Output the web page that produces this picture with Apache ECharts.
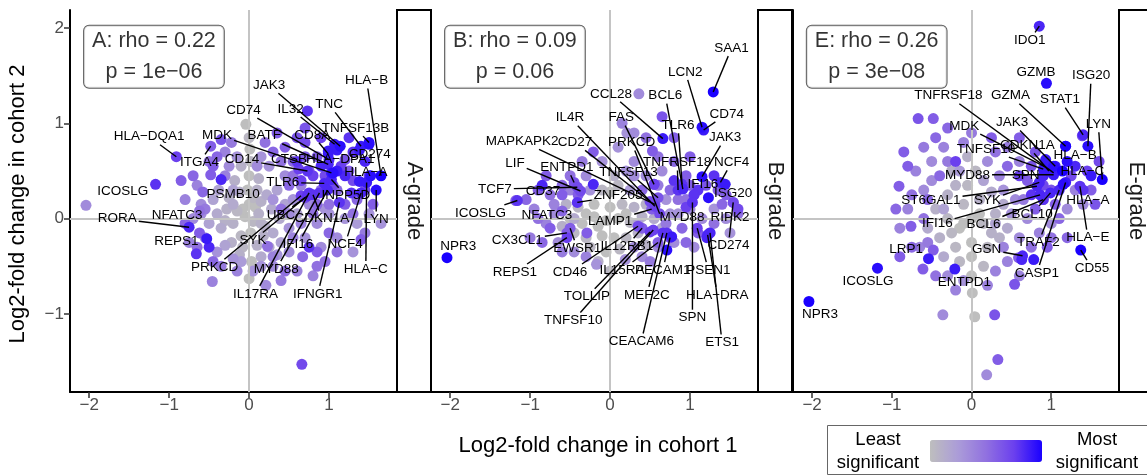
<!DOCTYPE html>
<html>
<head>
<meta charset="utf-8">
<script src="https://cdn.jsdelivr.net/npm/echarts@6/dist/echarts.min.js"></script>
<style>
  html, body { margin: 0; padding: 0; background: #fff; }
  #chart { width: 1147px; height: 475px; }
</style>
</head>
<body>
<div id="chart"></div>
<script>
// panel strip names and the rho / p annotation of each panel
var panelNames = ['A-grade', 'B-grade', 'E-grade'];
var statText = ['A: rho = 0.22\np = 1e\u221206', 'B: rho = 0.09\np = 0.06', 'E: rho = 0.26\np = 3e\u221208'];
var xTicks = [-2, -1, 0, 1];
var yTicks = [-1, 0, 1, 2];
var xTitle = 'Log2-fold change in cohort 1';
var yTitle = 'Log2-fold change in cohort 2';
var legendText = ['Least\nsignificant', 'Most\nsignificant'];

// unlabelled genes: [cohort1 lfc, cohort2 lfc, significance 0..1]
var pointsA = [
  [-0.05,0.02,0],[0.05,-0.03,0.05],[0.12,0.05,0.1],[-0.15,0.08,0.05],[-0.2,-0.05,0.1],[0.2,-0.08,0.1],[0,0.15,0],[0.02,-0.15,0],
  [-0.1,-0.18,0.05],[0.15,0.18,0.1],[-0.28,0.1,0.1],[0.28,0.1,0.15],[-0.35,-0.1,0.15],[0.3,-0.15,0.15],[-0.02,0.3,0],[0,0.45,0],
  [0.02,0.6,0.05],[0.01,0.73,0],[-0.04,0.99,0],[0.1,0.3,0.1],[-0.12,0.28,0.1],[-0.25,0.22,0.1],[0.22,0.25,0.15],[-0.4,0.05,0.15],
  [0.38,0,0.15],[-0.08,-0.3,0.05],[0.1,-0.28,0.1],[-0.22,-0.25,0.1],[0,-0.63,0],[0.03,-0.45,0],[-0.45,0.2,0.2],[0.45,0.15,0.2],
  [-0.3,-0.28,0.2],[0.25,-0.3,0.15],[0.4,-0.25,0.2],[-0.5,-0.05,0.2],[0.08,0.12,0],[-0.08,0.1,0],[0.05,0.22,0.05],[0.6,0.05,0.2],
  [-0.38,0.3,0.2],[0.35,0.3,0.2],[-0.18,0.4,0.1],[0.12,0.42,0.1],[-0.3,-0.02,0.1],[0.18,-0.18,0.1],[0,0.85,0.05],[-0.1,0.55,0.1],
  [0.15,-0.4,0.15],[-0.12,-0.38,0.1],[-0.2,0.15,0.15],[0.15,-0.05,0.1],[-0.1,-0.45,0.25],[0.3,0.2,0.3],
  [-0.6,0.15,0.35],[-0.55,-0.2,0.3],[-0.65,0.35,0.4],[-0.7,0,0.35],[-0.4,-0.35,0.3],[-0.2,-0.42,0.3],[0.15,-0.5,0.3],[0.3,-0.5,0.35],
  [0.5,-0.35,0.35],[0.7,-0.2,0.3],[0.85,-0.05,0.35],[1,0.05,0.3],[1.2,0,0.3],[1.35,-0.05,0.25],[1.5,0.05,0.3],[0.9,-0.3,0.35],
  [1.1,-0.2,0.35],[0.21,-0.7,0.35],[-0.46,-0.66,0.4],[0.6,-0.55,0.4],[0.45,0.45,0.35],[0.25,0.55,0.3],[0.65,0.35,0.4],[-0.25,0.55,0.35],
  [-0.15,0.65,0.3],[-0.3,0.7,0.4],[-0.22,0.8,0.45],[0.15,0.65,0.3],[-2.04,0.14,0.35],[0.75,0.15,0.35],[0.55,0.2,0.3],[0.5,-0.1,0.3],
  [-0.8,0.2,0.4],[-0.75,-0.25,0.4],[1.3,-0.35,0.3],[0.8,-0.6,0.4],[0.4,-0.65,0.45],[-0.6,0.05,0.35],[0.95,0.1,0.3],[1.65,-0.05,0.3],
  [0.35,-0.38,0.3],[-0.3,0.45,0.4],[-0.55,0.1,0.45],[-0.35,-0.5,0.45],[-0.15,-0.55,0.4],[0.05,-0.55,0.3],[0.3,-0.4,0.4],[0.55,-0.2,0.4],
  [0.65,-0.05,0.4],[0.1,0.55,0.35],[0.5,0.05,0.35],[1.45,-0.15,0.45],
  [-0.35,0.83,0.65],[-0.48,0.46,0.6],[-0.58,0.28,0.55],[-0.62,-0.15,0.6],[-0.45,-0.45,0.55],[0.23,-0.29,0.5],[0.67,-0.4,0.55],[1.4,-0.22,0.6],
  [0.3,0.7,0.55],[0.45,0.75,0.6],[0.55,0.6,0.55],[0.6,0.85,0.65],[0.75,0.5,0.6],[0.85,0.65,0.6],[0.9,0.3,0.55],[1.1,0.3,0.55],
  [1.25,0.5,0.6],[1.35,0.2,0.55],[1.55,0.15,0.6],[0.8,0.05,0.5],[1,0.15,0.5],[1.2,0.62,0.65],[0.35,0.9,0.6],[0.66,-1.53,0.7],
  [0.95,-0.45,0.5],[0.7,0.95,0.65],[-0.45,0.55,0.6],[0.85,-0.35,0.6],[1,-0.15,0.55],[0.5,0.35,0.55],[0.4,0.1,0.5],
  [-0.5,0.6,0.5],[-0.7,0.45,0.55],[-0.65,-0.3,0.5],[0.45,-0.55,0.5],[0.7,0.65,0.6],[0.55,0.45,0.5],[0.4,0.6,0.5],[0.2,0.8,0.5],
  [1.2,0.15,0.6],[0.85,0.15,0.55],[1.3,0.05,0.5],[1.1,-0.35,0.5],[0.85,-0.5,0.5],[-0.8,-0.05,0.55],[-0.85,0.4,0.6],[-0.4,0.65,0.55],
  [-0.35,0.41,0.85],[-0.66,-0.37,0.8],[0.73,1.13,0.8],[1.5,0.78,0.95],[0.99,0.71,0.9],[1.05,0.48,0.95],[1.38,0.39,0.9],[1.28,0.27,0.8],
  [0.75,-0.3,0.8],[0.9,0.55,0.85],[1.2,0.45,0.85],[1.45,0.6,0.85],[1.3,0.7,0.8],[0.8,0.45,0.75],[0.65,0.4,0.75],[1.1,0.72,0.9],
  [0.6,0.6,0.8],[-0.5,-0.3,0.85],[0.95,0.45,0.7],[1.15,0.55,0.75],[1.3,0.4,0.7],[1.45,0.3,0.7],[1.5,0.45,0.75],[1.05,0.35,0.7],
  [0.7,0.8,0.7],[0.9,0.85,0.75],[1.25,0.85,0.8]
];
var pointsB = [
  [-0.5,0,0],[-0.35,-0.05,0],[-0.2,0.02,0],[-0.05,-0.02,0],[0.1,0,0],[0.25,-0.04,0.05],[0.4,0.02,0.1],[0.55,0,0.15],
  [-0.45,-0.15,0.05],[-0.3,-0.2,0.05],[-0.1,-0.18,0],[0.05,-0.2,0],[0.2,-0.2,0.05],[0.35,-0.15,0.1],[-0.4,0.12,0.05],[-0.2,0.15,0],
  [0,0.12,0],[0.15,0.15,0.05],[0.3,0.12,0.1],[-0.05,-0.35,0],[0.12,-0.32,0.05],[-0.25,-0.3,0.05],[0,0.28,0],[0.1,0.35,0.05],
  [-0.1,0.3,0.05],[0.05,0.45,0.1],[-0.6,-0.08,0.1],[0.65,-0.1,0.15],[0.45,-0.28,0.1],[-0.15,-0.45,0.1],[0,-0.55,0.05],[-0.3,0.05,0],
  [0.2,0.05,0],[-0.15,-0.08,0],[0.45,0.15,0.1],[-0.55,0.15,0.1],[-0.45,0,0.15],[0.35,-0.05,0.2],[0.25,0.3,0.25],[-0.25,0.3,0.3],
  [0.21,0.9,0.3],[0.3,0.9,0.35],[0.1,0.75,0.3],[0.3,0.6,0.35],[-0.1,0.6,0.3],[0.2,0.5,0.3],[0.45,0.45,0.35],[-0.3,0.45,0.35],
  [-0.5,0.3,0.4],[-0.7,0.15,0.4],[-0.8,-0.05,0.4],[-0.65,-0.25,0.35],[-0.45,-0.35,0.35],[-0.17,-0.48,0.3],[0.19,-0.43,0.3],[0.4,-0.4,0.35],
  [0.6,-0.3,0.35],[0.8,-0.25,0.35],[0.85,0.05,0.3],[1,0.1,0.35],[1.15,0,0.35],[1.3,0.1,0.3],[1.45,0,0.35],[1.5,-0.15,0.3],
  [0.36,1.31,0.35],[0.7,0.2,0.3],[0.65,0.5,0.35],[-0.95,0.1,0.4],[1.05,-0.3,0.35],[-1,-0.2,0.45],[0.75,0.05,0.3],[-0.7,0.05,0.35],
  [-0.3,-0.4,0.4],[0.3,-0.3,0.35],[0.5,-0.45,0.45],[0.7,-0.05,0.45],[0.15,1,0.4],[-0.35,0.6,0.45],[0.6,0.35,0.45],[0.3,0.45,0.35],
  [0.65,1.07,0.65],[0.53,0.71,0.6],[-0.21,0.7,0.6],[-1.18,0.19,0.6],[-0.75,-0.1,0.6],[-0.29,-0.15,0.6],[1.54,0.17,0.6],[0.8,0.6,0.55],
  [0.95,0.45,0.6],[0.75,0.3,0.55],[1.05,0.25,0.6],[-0.9,0.3,0.6],[-0.6,0.35,0.55],[-0.85,-0.25,0.55],[0.4,0.3,0.55],[0.55,0.15,0.6],
  [1.25,-0.15,0.55],[0.9,-0.1,0.55],[-0.4,0.25,0.6],[1.35,0.3,0.6],[1.4,0.15,0.55],[0.95,0.2,0.5],[-0.9,0,0.5],[-1.05,0.2,0.55],
  [-0.75,0.25,0.5],[-0.6,-0.35,0.45],[0.85,0.2,0.5],[1,0.35,0.6],[1.2,0.35,0.65],[1.3,-0.05,0.5],[1.45,0.25,0.6],[1.6,0.05,0.5],
  [0.6,0.65,0.5],[0.45,0.85,0.5],[-0.5,0.45,0.5],[0.95,-0.25,0.55],[1.1,-0.15,0.6],[0.8,0.85,0.6],[-0.8,0.45,0.6],[1,0.65,0.6],
  [1.23,0.22,0.95],[-0.21,0.36,0.85],[0.71,-0.33,0.95],[0.77,-0.19,0.9],[1.21,-0.2,0.85],[0.55,0.36,0.75],[-0.85,0.35,0.85],[1.1,0.3,0.8],
  [0.8,0.4,0.8],[1.3,0.45,0.8]
];
var pointsE = [
  [-0.3,0,0.05],[-0.15,-0.1,0],[0,0,0],[0.15,-0.05,0.05],[0.3,0.05,0.1],[-0.4,-0.2,0.1],[-0.2,-0.3,0.05],[0,-0.25,0],
  [0.2,-0.3,0.05],[0.35,-0.2,0.1],[-0.1,0.15,0.05],[0.1,0.2,0.1],[-0.3,0.25,0.1],[0.25,0.28,0.15],[-0.45,0.1,0.1],[0,-0.4,0],
  [-0.15,-0.45,0.05],[0.15,-0.5,0.05],[0.01,-0.78,0],[0.04,-1.03,0],[0,-0.6,0],[-0.05,0.35,0.05],[0.05,0.5,0.05],[-0.25,0.5,0.1],
  [0.45,-0.1,0.15],[-0.55,-0.1,0.15],[-0.35,-0.4,0.15],[0.4,0.15,0.15],[-0.05,0.65,0.1],[-0.2,0.35,0.1],[-0.1,-0.05,0],[0.1,0.05,0],
  [-0.25,-0.15,0.05],[0.25,-0.15,0.1],[-0.15,0.5,0.25],[0.15,0.4,0.2],[-0.35,0.1,0.2],[0.3,-0.05,0.2],
  [-0.36,-1.01,0.35],[0.19,-1.64,0.35],[-0.6,0.3,0.35],[-0.7,0.5,0.4],[-0.5,0.6,0.35],[-0.8,0.1,0.4],[-0.65,-0.3,0.4],[-0.3,-0.6,0.35],
  [0.3,-0.55,0.4],[0.45,-0.45,0.4],[0.6,-0.2,0.35],[0.7,0,0.35],[0.85,-0.15,0.4],[1,-0.05,0.35],[1.2,0.1,0.35],[1.4,0.15,0.35],
  [0.55,0.2,0.35],[0.35,0.45,0.4],[0.2,0.6,0.35],[-0.1,0.8,0.4],[-0.35,0.75,0.4],[0.6,0.6,0.4],[0.45,0.75,0.45],[-0.9,-0.1,0.4],
  [0.9,0.2,0.4],[1.3,0.3,0.4],[0.6,-0.6,0.4],[-0.1,-0.65,0.3],[-0.6,0.75,0.45],[0.5,0.05,0.3],[-0.5,0.4,0.35],[-0.3,0.6,0.45],
  [0,0.9,0.45],[0.4,-0.3,0.4],[0.2,-0.7,0.4],[-0.2,-0.75,0.4],[0.4,0.3,0.3],[-0.55,-0.25,0.45],
  [-0.67,1.05,0.65],[-0.48,1.05,0.6],[0.29,-1.01,0.65],[0.33,-1.48,0.6],[0.54,-0.69,0.65],[-0.48,-0.33,0.6],[-0.61,-0.53,0.6],[-0.91,0.34,0.6],
  [-0.76,-0.08,0.6],[0.59,-0.41,0.6],[1.39,0.87,0.7],[0.8,0.7,0.65],[0.7,0.4,0.6],[0.8,0.1,0.6],[1,0.3,0.65],[1.1,0,0.55],
  [1.5,0.3,0.6],[1.6,0.6,0.7],[-0.8,0.55,0.6],[-0.3,0.95,0.55],[0.25,0.85,0.6],[-0.55,0.2,0.55],[1.2,-0.2,0.55],[0.95,-0.3,0.6],
  [-0.9,-0.4,0.6],[-0.4,0.45,0.55],[-0.75,0.25,0.5],[-0.6,0,0.5],[-0.75,-0.3,0.55],[-0.85,0.7,0.6],[-0.45,0.85,0.55],[0.3,0.7,0.5],
  [0.45,0.55,0.55],[0.6,0.85,0.6],[0.75,0.55,0.65],[1.05,0.15,0.6],[1.55,0.15,0.65],[1,-0.2,0.5],[0.75,-0.3,0.5],[-0.45,-0.6,0.5],
  [0.65,0.2,0.45],[-0.95,0.1,0.55],
  [1.03,0.55,0.95],[1.14,0.5,1],[1.15,0.36,0.95],[0.78,-0.43,0.9],[0.63,-0.43,0.85],[1.18,0.76,0.9],[0.93,0.62,0.9],[0.6,0.45,0.75],
  [-0.2,0.6,0.75],[1.3,0.55,0.85],[0.75,0.25,0.8],[0.9,0.35,0.7],[1.25,0.45,0.7],[1.45,0.5,0.75]
];

// labelled genes: [name, cohort1 lfc, cohort2 lfc, significance, label x, label y]
var labelsA = [
  ['HLA\u2212B',1.65,0.45,1,1.47,1.45],['TNC',1.4,0.76,0.9,1.0,1.2],['JAK3',1.14,0.76,0.95,0.25,1.4],['IL32',1.07,0.78,0.9,0.52,1.15],
  ['CD74',1.0,0.62,0.85,-0.07,1.14],['TNFSF13B',1.5,0.8,0.95,1.33,0.95],['CD8A',0.99,0.68,0.9,0.79,0.88],['BATF',0.99,0.57,0.85,0.19,0.87],
  ['MDK',1.03,0.48,0.9,-0.4,0.88],['HLA\u2212DQA1',-0.91,0.65,0.75,-1.25,0.86],['ITGA4',-0.48,0.76,0.6,-0.62,0.59],['CD14',0.73,0.5,0.8,-0.09,0.62],
  ['CTSB',0.62,0.52,0.75,0.5,0.62],['HLA\u2212DPA1',1.1,0.5,0.9,1.14,0.62],['CD274',1.38,0.72,0.9,1.51,0.68],['HLA\u2212A',1.52,0.45,0.95,1.46,0.49],
  ['TLR6',0.94,0.37,0.85,0.42,0.38],['PSMB10',-0.2,0.3,0.2,-0.2,0.26],['ICOSLG',-1.17,0.36,0.8,-1.58,0.29],['RORA',-0.75,-0.09,0.85,-1.65,0.0],
  ['NFATC3',-0.62,0.08,0.5,-0.9,0.04],['REPS1',-0.53,-0.21,0.9,-0.91,-0.24],['UBC',0.7,0.22,0.7,0.4,0.04],['CDKN1A',0.8,0.25,0.8,0.91,0.0],
  ['LYN',1.59,0.3,0.95,1.59,-0.01],['SYK',0.73,0.24,0.8,0.05,-0.23],['IFI16',0.98,0.3,0.85,0.61,-0.27],['NCF4',1.4,0.27,0.85,1.2,-0.27],
  ['HLA\u2212C',1.47,0.38,0.9,1.46,-0.53],['PRKCD',0.65,0.24,0.75,-0.43,-0.51],['MYD88',0.88,0.27,0.8,0.34,-0.53],['IL17RA',0.75,0.27,0.8,0.08,-0.79],
  ['IFNGR1',1.13,0.17,0.8,0.86,-0.79],['INPP5D',1.03,0.41,0.85,1.21,0.24]
];
var labelsB = [
  ['SAA1',1.29,1.33,1,1.52,1.79],['LCN2',1.15,0.96,0.95,0.94,1.54],['CCL28',0.66,0.84,0.9,0.01,1.31],['BCL6',0.91,0.31,0.85,0.69,1.29],
  ['IL4R',0.56,0.13,0.75,-0.5,1.06],['FAS',0.55,0.36,0.75,0.14,1.06],['TLR6',0.9,0.36,0.8,0.85,0.98],['CD74',1.17,0.93,0.9,1.46,1.1],
  ['JAK3',1.15,0.44,0.95,1.44,0.85],['MAPKAPK2',0.56,0.15,0.7,-1.1,0.81],['CD27',0.5,0.18,0.7,-0.44,0.8],['PRKCD',0.62,0.05,0.7,0.27,0.8],
  ['TNFRSF18',0.85,0.3,0.8,0.84,0.59],['NCF4',1.38,0.38,0.85,1.52,0.59],['LIF',-0.37,0.29,0.7,-1.19,0.58],['ENTPD1',-0.45,0.38,0.65,-0.54,0.54],
  ['TNFSF13',0.6,0.22,0.65,0.23,0.49],['TCF7',-0.41,0.33,0.7,-1.44,0.31],['CD37',-0.6,0.25,0.6,-0.84,0.29],['IFI16',1.05,0.25,0.8,1.16,0.36],
  ['ISG20',1.44,0.36,0.9,1.54,0.27],['ZNF205',-0.41,0.17,0.8,0.1,0.24],['ICOSLG',-1.16,0.19,0.8,-1.62,0.06],['NFATC3',-0.6,0.08,0.55,-0.79,0.03],
  ['LAMP1',0.52,0.1,0.6,0.0,-0.03],['MYD88',0.95,0.12,0.75,0.9,0.01],['RIPK2',1.6,0.1,0.7,1.5,0.01],['CX3CL1',-0.54,-0.15,0.6,-1.16,-0.23],
  ['EWSR1',-0.5,-0.1,0.6,-0.41,-0.31],['IL12RB1',0.4,-0.1,0.6,0.21,-0.29],['CD274',1.54,0.17,0.7,1.48,-0.28],['REPS1',-0.54,-0.2,0.75,-1.19,-0.56],
  ['CD46',0.35,-0.08,0.7,-0.5,-0.56],['IL15RA',0.6,-0.25,0.6,0.15,-0.54],['PECAM1',0.75,-0.2,0.7,0.66,-0.54],['PSEN1',1.09,-0.1,0.75,1.23,-0.54],
  ['TOLLIP',0.5,-0.14,0.75,-0.29,-0.82],['MEF2C',0.66,-0.15,0.8,0.46,-0.8],['HLA\u2212DRA',1.22,-0.17,0.85,1.34,-0.8],['TNFSF10',0.54,-0.12,0.75,-0.46,-1.07],
  ['SPN',1.03,0.17,0.8,1.03,-1.04],['CEACAM6',0.71,-0.15,0.8,0.39,-1.29],['ETS1',1.25,-0.15,0.85,1.4,-1.3],['NPR3',-2.04,-0.41,1,-1.9,-0.29]
];
var labelsE = [
  ['IDO1',0.85,2.02,0.85,0.73,1.87],['GZMB',0.94,1.42,0.95,0.81,1.54],['ISG20',1.46,0.76,0.95,1.5,1.5],['TNFRSF18',1.03,0.48,0.9,-0.29,1.29],
  ['GZMA',1.18,0.76,1,0.49,1.29],['STAT1',1.4,0.88,0.85,1.11,1.25],['LYN',1.64,0.41,1,1.59,0.99],['MDK',0.93,0.54,0.9,-0.09,0.97],
  ['JAK3',1.05,0.55,0.9,0.51,1.01],['CDKN1A',0.97,0.5,0.9,0.7,0.77],['TNFSF10',0.9,0.52,0.9,0.18,0.73],['HLA\u2212B',1.2,0.6,0.95,1.3,0.66],
  ['MYD88',1.03,0.46,0.9,-0.05,0.46],['SPN',0.9,0.45,0.85,0.68,0.46],['HLA\u2212C',1.5,0.45,0.9,1.39,0.5],['ST6GAL1',0.82,0.34,0.85,-0.51,0.19],
  ['SYK',0.85,0.38,0.85,0.2,0.19],['HLA\u2212A',1.4,0.3,0.8,1.46,0.19],['BCL10',0.99,0.27,0.85,0.76,0.05],['IFI16',0.86,0.25,0.85,-0.43,-0.05],
  ['BCL6',0.9,0.2,0.8,0.15,-0.06],['HLA\u2212E',1.36,0.34,0.8,1.46,-0.2],['TRAF2',1.1,0.3,0.85,0.84,-0.25],['LRP1',-0.54,-0.42,0.9,-0.82,-0.32],
  ['GSN',0.64,-0.39,0.85,0.19,-0.32],['CASP1',1.18,0.38,0.9,0.82,-0.57],['CD55',1.37,-0.33,1,1.51,-0.52],['ICOSLG',-1.18,-0.52,0.95,-1.3,-0.66],
  ['NPR3',-2.04,-0.87,1,-1.9,-1.0],['ENTPD1',-0.21,-0.53,0.9,-0.09,-0.67]
];

var FONT = '"Liberation Sans", Arial, Helvetica, sans-serif';
var LABEL_FONT = '13.5px ' + FONT;
var panels = [
  { points: pointsA, labels: labelsA, left: 70, width: 327 },
  { points: pointsB, labels: labelsB, left: 431, width: 327 },
  { points: pointsE, labels: labelsE, left: 793, width: 326 }
];
var gridTop = 10, gridHeight = 382, stripW = 34;

var measureCtx = document.createElement('canvas').getContext('2d');
measureCtx.font = LABEL_FONT;
function textWidth(s) { return measureCtx.measureText(s).width; }
function minus(v) { return v < 0 ? '\u2212' + Math.abs(v) : String(v); }

// ggrepel-like label: text at (lx, ly), segment from box edge to the point
function labelRenderer(labels) {
  return function (params, api) {
    var lab = labels[params.dataIndex];
    var p = api.coord([lab[1], lab[2]]);
    var c = api.coord([lab[4], lab[5]]);
    var hw = textWidth(lab[0]) / 2 + 2, hh = 8;
    var dx = p[0] - c[0], dy = p[1] - c[1];
    var kids = [];
    if (Math.abs(dx) > hw || Math.abs(dy) > hh) {
      var t = Math.min(dx ? hw / Math.abs(dx) : Infinity, dy ? hh / Math.abs(dy) : Infinity);
      var sx = c[0] + dx * t, sy = c[1] + dy * t;
      if (Math.hypot(p[0] - sx, p[1] - sy) > 7) {
        kids.push({ type: 'line', shape: { x1: sx, y1: sy, x2: p[0], y2: p[1] },
          style: { stroke: '#000', lineWidth: 1.4 } });
      }
    }
    kids.push({ type: 'text', x: c[0], y: c[1],
      style: { text: lab[0], fill: '#000', font: LABEL_FONT,
        align: 'center', verticalAlign: 'middle', textAlign: 'center', textVerticalAlign: 'middle' } });
    return { type: 'group', children: kids };
  };
}

var grids = [], xAxes = [], yAxes = [], series = [], pointSeries = [], graphics = [];
panels.forEach(function (pn, i) {
  grids.push({ left: pn.left, top: gridTop, width: pn.width, height: gridHeight });
  xAxes.push({
    type: 'value', gridIndex: i, min: -2.24, max: 1.85,
    axisLine: { show: true, onZero: false, lineStyle: { color: '#000', width: 2 } },
    axisTick: { show: true, length: 6, customValues: xTicks, lineStyle: { color: '#333', width: 1.5 } },
    axisLabel: { show: true, customValues: xTicks, formatter: minus, color: '#4d4d4d', fontSize: 17, fontFamily: FONT, margin: 5 },
    splitLine: { show: false }
  });
  yAxes.push({
    type: 'value', gridIndex: i, min: -1.82, max: 2.19,
    axisLine: { show: true, onZero: false, lineStyle: { color: '#000', width: 2 } },
    axisTick: { show: i === 0, length: 6, customValues: yTicks, lineStyle: { color: '#333', width: 1.5 } },
    axisLabel: { show: i === 0, customValues: yTicks, formatter: minus, color: '#4d4d4d', fontSize: 17, fontFamily: FONT, margin: 6 },
    splitLine: { show: false }
  });

  // reference lines at zero
  series.push({
    type: 'scatter', xAxisIndex: i, yAxisIndex: i, data: [], z: 1,
    markLine: { silent: true, symbol: ['none', 'none'], label: { show: false },
      lineStyle: { color: '#c4c4c4', width: 2, type: 'solid' },
      data: [{ xAxis: 0 }, { yAxis: 0 }] }
  });

  var data = pn.points.concat(pn.labels.map(function (l) { return [l[1], l[2], l[3]]; }));
  data.sort(function (a, b) { return a[2] - b[2]; });
  pointSeries.push(series.length);
  series.push({
    type: 'scatter', xAxisIndex: i, yAxisIndex: i, data: data, z: 2,
    symbolSize: 11, silent: true, itemStyle: { opacity: 1 }
  });

  series.push({
    type: 'scatter', xAxisIndex: i, yAxisIndex: i, data: [[-1.19, 1.7]], z: 4,
    symbolSize: 1, silent: true, itemStyle: { color: 'rgba(0,0,0,0)' },
    label: { show: true, position: 'inside', formatter: statText[i], fontSize: 21.5, lineHeight: 31,
      fontFamily: FONT, color: '#000', align: 'center', backgroundColor: '#fff', borderColor: '#333',
      borderWidth: 1, borderRadius: 5, padding: [0, 8, 0, 8] }
  });

  series.push({
    type: 'custom', xAxisIndex: i, yAxisIndex: i, z: 5, silent: true, clip: false,
    data: pn.labels.map(function (l) { return [l[1], l[2], l[4], l[5]]; }),
    renderItem: labelRenderer(pn.labels)
  });

  var sx = pn.left + pn.width;
  graphics.push({ type: 'rect', shape: { x: sx, y: gridTop, width: stripW, height: gridHeight },
    style: { fill: '#fff', stroke: '#000', lineWidth: 2 } });
  graphics.push({ type: 'text', x: sx + stripW / 2, y: gridTop + gridHeight / 2, rotation: -Math.PI / 2,
    style: { text: panelNames[i], font: '22px ' + FONT, fill: '#1a1a1a',
      align: 'center', verticalAlign: 'middle', textAlign: 'center', textVerticalAlign: 'middle' } });
});

graphics.push({ type: 'text', x: 18, y: 204, rotation: Math.PI / 2,
  style: { text: yTitle, font: '22px ' + FONT, fill: '#000',
    align: 'center', verticalAlign: 'middle', textAlign: 'center', textVerticalAlign: 'middle' } });
graphics.push({ type: 'text', x: 598, y: 446,
  style: { text: xTitle, font: '22px ' + FONT, fill: '#000',
    align: 'center', verticalAlign: 'middle', textAlign: 'center', textVerticalAlign: 'middle' } });
graphics.push({ type: 'rect', shape: { x: 827.5, y: 425.5, width: 330, height: 49 },
  style: { fill: 'none', stroke: '#666', lineWidth: 1 } });
graphics.push({ type: 'text', x: 878, y: 451,
  style: { text: legendText[0], font: '18.5px ' + FONT, fill: '#000', lineHeight: 23,
    align: 'center', verticalAlign: 'middle', textAlign: 'center', textVerticalAlign: 'middle' } });
graphics.push({ type: 'text', x: 1097, y: 451,
  style: { text: legendText[1], font: '18.5px ' + FONT, fill: '#000', lineHeight: 23,
    align: 'center', verticalAlign: 'middle', textAlign: 'center', textVerticalAlign: 'middle' } });

var chart = echarts.init(document.getElementById('chart'), null, { renderer: 'canvas' });
chart.setOption({
  animation: false,
  backgroundColor: '#fff',
  grid: grids,
  xAxis: xAxes,
  yAxis: yAxes,
  visualMap: {
    type: 'continuous', min: 0, max: 1, dimension: 2, seriesIndex: pointSeries,
    orient: 'horizontal', left: 930, top: 440, itemWidth: 22, itemHeight: 112,
    calculable: false, padding: 0, showLabel: false,
    inRange: { color: ['#bebebe', '#ab9cd8', '#9171e0', '#6b40ee', '#1a00ff'] }
  },
  graphic: graphics,
  series: series
});
</script>
</body>
</html>
